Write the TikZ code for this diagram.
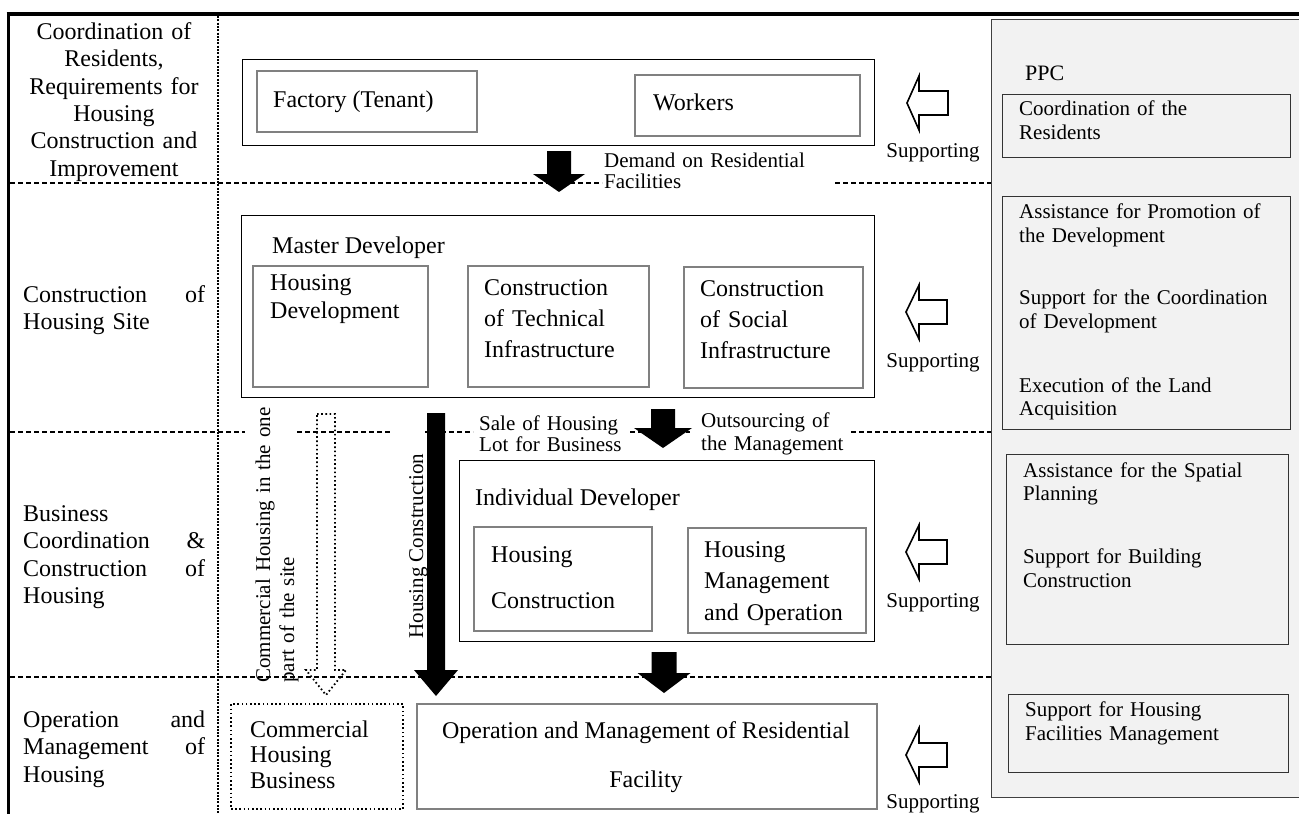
\documentclass[tikz,border=0pt]{standalone}
\usepackage{fontspec}
\setmainfont{Liberation Serif}
\definecolor{boxgray}{RGB}{128,128,128}
\definecolor{panelgray}{RGB}{242,242,242}
\newcommand\fmain{\fontsize{24}{27.4}\selectfont}
\newcommand\fsmall{\fontsize{21}{22}\selectfont}
\newcommand\fppc{\fontsize{21}{24.5}\selectfont}
% #1 style, #2 x centre, #3 top, #4 head base, #5 tip, #6 shaft half width, #7 head half width
\newcommand\blkdown[7]{\path[#1] (#2-#6,#3) -- (#2+#6,#3) -- (#2+#6,#4) -- (#2+#7,#4) -- (#2,#5) -- (#2-#7,#4) -- (#2-#6,#4) -- cycle;}
% #1 style, #2 y centre, #3 right end, #4 head base, #5 tip, #6 shaft half height, #7 head half height
\newcommand\blkleft[7]{\path[#1] (#3,#2-#6) -- (#3,#2+#6) -- (#4,#2+#6) -- (#4,#2+#7) -- (#5,#2) -- (#4,#2-#7) -- (#4,#2-#6) -- cycle;}
\begin{document}
\begin{tikzpicture}[x=1pt,y=-1pt,
  gbox/.style={draw=boxgray, line width=2pt, inner sep=0pt, anchor=north west},
  kbox/.style={draw=black, line width=1.2pt, inner sep=0pt, anchor=north west},
  pbox/.style={draw=black!80, line width=1.1pt, inner sep=0pt, anchor=north west},
  dbox/.style={draw=black, line width=2pt, dash pattern=on 1.6pt off 2.6pt, inner sep=0pt, anchor=north west},
  txt/.style={inner sep=0pt, anchor=base west, align=left, font=\fmain},
  stxt/.style={inner sep=0pt, anchor=base west, align=left, font=\fsmall},
  ptxt/.style={inner sep=0pt, anchor=base west, align=left, font=\fppc, text width=285pt},
  ml/.style={text width=#1},
  sep/.style={line width=1.4pt, dash pattern=on 5pt off 3pt},
  blk/.style={fill=black},
  hollow/.style={draw=black, line width=1.6pt, fill=white},
  dotarrow/.style={draw=black, line width=1.8pt, dash pattern=on 1.6pt off 2.6pt},
]
\clip (0,0) rectangle (1299,814);
% right PPC panel
\node[draw=black!75, line width=1.2pt, fill=panelgray, anchor=north west, minimum width=330pt, minimum height=778pt, inner sep=0pt] (ppc) at (991,19) {};
% frame
\draw[line width=4pt] (6.5,14) -- (1310,14);
\draw[line width=3.5pt] (8.5,12.5) -- (8.5,820);
\draw[line width=2.5pt, dash pattern=on 2pt off 1.3pt] (218,16) -- (218,820);
% separators
\draw[sep] (10,183) -- (602,183);
\draw[sep] (835,183) -- (991,183);
\draw[sep] (10,432) -- (245,432);
\draw[sep] (297,432) -- (390,432);
\draw[sep] (425,432) -- (473,432);
\draw[sep] (630,432) -- (690,432);
\draw[sep] (851,432) -- (991,432);
\draw[sep] (10,677) -- (991,677);

% left labels
\node[txt, ml=200pt, align=center, anchor=base, font=\fontsize{24}{27.3}\selectfont] (l1) at (114,39.5) {Coordination of\\Residents,\\Requirements for\\Housing\\Construction and\\Improvement};
\node[txt, ml=182pt, font=\fontsize{24}{27}\selectfont] (l2) at (23,302) {Construction\hfill of\\Housing Site};
\node[txt, ml=182pt, font=\fontsize{24}{27.6}\selectfont] (l3) at (23,521) {Business\\Coordination\hfill \&\\Construction\hfill of\\Housing};
\node[txt, ml=182pt, font=\fontsize{24}{27.5}\selectfont] (l4) at (23,727) {Operation\hfill and\\Management\hfill of\\Housing};

% top row
\node[kbox, minimum width=632pt, minimum height=86pt] (top) at (242,59) {};
\node[gbox, minimum width=220pt, minimum height=61pt] (fac) at (256,70) {};
\node[gbox, minimum width=225pt, minimum height=61pt] (wrk) at (634,74) {};
\node[txt] (fact) at (273,107) {Factory (Tenant)};
\node[txt] (wrkt) at (653,110) {Workers};
\node[stxt, ml=230pt, font=\fontsize{21}{21.5}\selectfont] (dem) at (604,167) {Demand on Residential\\Facilities};

% master developer
\node[kbox, minimum width=633pt, minimum height=182pt] (mst) at (241,215) {};
\node[txt] (mstt) at (272,253) {Master Developer};
\node[gbox, minimum width=175pt, minimum height=121pt] (hd) at (252,265) {};
\node[gbox, minimum width=181pt, minimum height=121pt] (tech) at (467,265) {};
\node[gbox, minimum width=179pt, minimum height=121pt] (soc) at (683,266) {};
\node[txt, ml=160pt, font=\fontsize{24}{28}\selectfont] (hdt) at (270,290) {Housing\\Development};
\node[txt, ml=160pt, font=\fontsize{24}{31.3}\selectfont] (techt) at (484,295) {Construction\\of Technical\\Infrastructure};
\node[txt, ml=160pt, font=\fontsize{24}{31.3}\selectfont] (soct) at (700,296) {Construction\\of Social\\Infrastructure};

% labels between master and individual
\node[stxt, ml=150pt, font=\fontsize{21}{21.5}\selectfont] (sale) at (479,430) {Sale of Housing\\Lot for Business};
\node[stxt, ml=150pt, font=\fontsize{21}{23}\selectfont] (outs) at (701,427) {Outsourcing of\\the Management};

% individual developer
\node[kbox, minimum width=415pt, minimum height=181pt] (ind) at (459,460) {};
\node[txt] (indt) at (475,505) {Individual Developer};
\node[gbox, minimum width=178pt, minimum height=104pt] (hc) at (473,526) {};
\node[gbox, minimum width=178pt, minimum height=105pt] (hm) at (687,527) {};
\node[txt, ml=160pt, font=\fontsize{24}{46}\selectfont] (hct) at (491,562) {Housing\\Construction};
\node[txt, ml=160pt, font=\fontsize{24}{31.5}\selectfont] (hmt) at (704,557) {Housing\\Management\\and Operation};

% bottom row
\node[dbox, minimum width=172pt, minimum height=105pt] (cb) at (230,703) {};
\node[gbox, minimum width=460pt, minimum height=105pt] (op) at (416,703) {};
\node[txt, ml=150pt, font=\fontsize{24}{25.7}\selectfont] (cbt) at (250,737) {Commercial\\Housing\\Business};
\node[txt, anchor=base] (opt1) at (646,738) {Operation and Management of Residential};
\node[txt, anchor=base] (opt2) at (646,787) {Facility};

% rotated labels
\node[stxt, ml=300pt, rotate=90, font=\fontsize{21}{24}\selectfont] (cht) at (270,683) {Commercial Housing in the one\\part of the site};
\node[stxt, rotate=90, anchor=base] (hctxt) at (423,546) {Housing Construction};

% block arrows
\blkdown{blk}{559}{151}{174}{192}{12}{26}
\blkdown{blk}{663}{409}{428}{448}{12}{29}
\blkdown{blk}{664}{652}{673}{693}{12.5}{26.5}
\blkdown{blk}{436}{413}{670}{696}{9}{22}
\blkdown{dotarrow}{326}{414}{670}{695}{9}{20}

% PPC content
\node[stxt, font=\fontsize{22}{24}\selectfont] (ppct) at (1025,80) {PPC};
\node[pbox, minimum width=288pt, minimum height=63pt] (p1) at (1002,94) {};
\node[pbox, minimum width=288pt, minimum height=233pt] (p2) at (1002,196) {};
\node[pbox, minimum width=282pt, minimum height=190pt] (p3) at (1006,454) {};
\node[pbox, minimum width=280pt, minimum height=78pt] (p4) at (1008,694) {};
\node[ptxt] (p1a) at (1019,115) {Coordination of the\\Residents};
\node[ptxt] (p2a) at (1019,218) {Assistance for Promotion of\\the Development};
\node[ptxt] (p2b) at (1019,304) {Support for the Coordination\\of Development};
\node[ptxt, font=\fontsize{21}{23.5}\selectfont] (p2c) at (1019,392) {Execution of the Land\\Acquisition};
\node[ptxt, font=\fontsize{21}{23.5}\selectfont] (p3a) at (1023,477) {Assistance for the Spatial\\Planning};
\node[ptxt] (p3b) at (1023,563) {Support for Building\\Construction};
\node[ptxt] (p4a) at (1025,716) {Support for Housing\\Facilities Management};

% supporting arrows
\blkleft{hollow}{103}{948}{919}{907}{12}{27}
\blkleft{hollow}{312}{947}{919}{906}{12}{27}
\blkleft{hollow}{552}{947}{919}{906}{12}{27}
\blkleft{hollow}{755}{947}{919}{906}{12}{27}
\node[stxt, anchor=base] (s1) at (933,157) {Supporting};
\node[stxt, anchor=base] (s2) at (933,367) {Supporting};
\node[stxt, anchor=base] (s3) at (933,607) {Supporting};
\node[stxt, anchor=base] (s4) at (933,808) {Supporting};
\end{tikzpicture}
\end{document}
